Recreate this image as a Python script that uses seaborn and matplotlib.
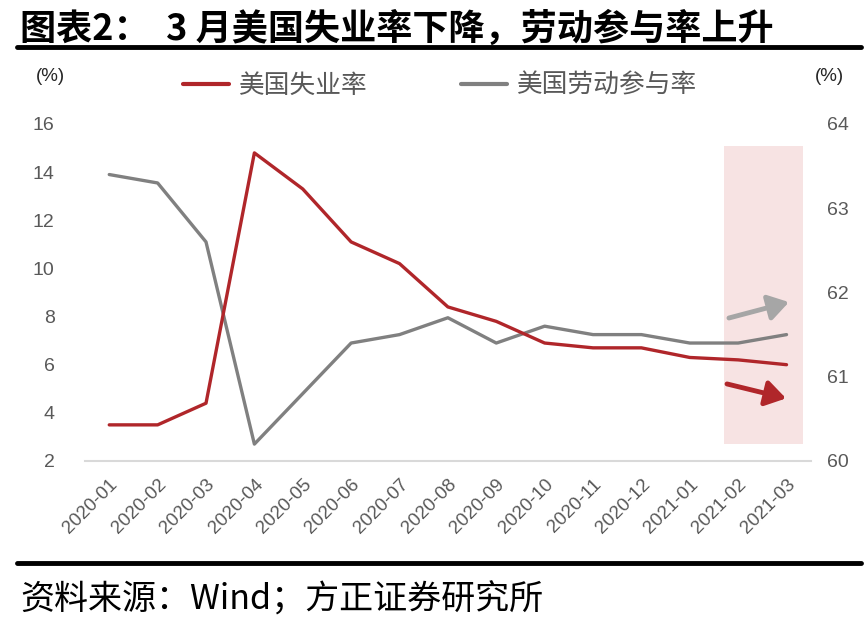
import matplotlib
matplotlib.use("Agg")
import matplotlib.pyplot as plt
import seaborn as sns
import pandas as pd
import numpy as np
from matplotlib.patches import Rectangle
from matplotlib.lines import Line2D

months = ["2020-01", "2020-02", "2020-03", "2020-04", "2020-05", "2020-06", "2020-07",
          "2020-08", "2020-09", "2020-10", "2020-11", "2020-12", "2021-01", "2021-02", "2021-03"]
unemployment = [3.5, 3.5, 4.4, 14.8, 13.3, 11.1, 10.2, 8.4, 7.8, 6.9, 6.7, 6.7, 6.3, 6.2, 6.0]
participation = [63.4, 63.3, 62.6, 60.2, 60.8, 61.4, 61.5, 61.7, 61.4, 61.6, 61.5, 61.5, 61.4, 61.4, 61.5]
left_ticks = [2, 4, 6, 8, 10, 12, 14, 16]
right_ticks = [60, 61, 62, 63, 64]

sns.set_theme(style="white")
plt.rcParams['font.family'] = ['Liberation Sans', 'Noto Sans CJK SC', 'DejaVu Sans']

RED = "#B0262A"
GRAY = "#808080"
TXT = "#595959"

df = pd.DataFrame({"idx": np.arange(len(months)), "month": months,
                   "u": unemployment, "p": participation})

fig = plt.figure(figsize=(8.68, 6.2), dpi=100)
ax = fig.add_axes([0.098, 0.2565, 0.836, 0.5435])
ax2 = ax.twinx()

# highlight region behind lines
rect = Rectangle((12.7, 2.7), 1.64, 12.4, facecolor="#F7E3E3", edgecolor="none", zorder=0)
ax2.add_patch(rect)
rect.set_transform(ax.transData)

sns.lineplot(data=df, x="idx", y="u", ax=ax, color=RED, linewidth=2.4, legend=False)
sns.lineplot(data=df, x="idx", y="p", ax=ax2, color=GRAY, linewidth=2.4, legend=False)

ax.set_xlim(-0.5, len(months) - 0.5)
ax.set_ylim(2, 16)
ax2.set_ylim(60, 64)
ax.set_yticks(left_ticks)
ax2.set_yticks(right_ticks)
ax.set_xticks(np.arange(len(months)))
ax.set_xticklabels(months, rotation=45, ha="right", rotation_mode="anchor",
                   fontsize=13.5, color=TXT)
ax.set_xticks(np.arange(len(months) + 1) - 0.5, minor=True)
ax.tick_params(axis="x", which="major", length=0, pad=11)
ax.tick_params(axis="x", which="minor", length=6, width=1.2, color="#D9D9D9", direction="out")
ax.tick_params(axis="y", length=0, labelsize=14, labelcolor=TXT, pad=22)
ax2.tick_params(axis="y", length=0, labelsize=14, labelcolor=TXT, pad=12)
ax.set_xlabel("")
ax.set_ylabel("")
ax2.set_ylabel("")
for a in (ax, ax2):
    for s in ("left", "right", "top", "bottom"):
        a.spines[s].set_visible(False)
ax.spines["bottom"].set_visible(True)
ax.spines["bottom"].set_color("#D9D9D9")
ax.spines["bottom"].set_linewidth(1.5)
ax.grid(False)
ax2.grid(False)

ax.annotate("", xy=(14.05, 8.6), xytext=(12.81, 7.94), xycoords="data",
            arrowprops=dict(arrowstyle="-|>,head_length=0.55,head_width=0.35", color="#A6A6A6",
                            lw=3.5, mutation_scale=22, shrinkA=0, shrinkB=0),
            zorder=6)
ax.annotate("", xy=(13.99, 4.6), xytext=(12.77, 5.2), xycoords="data",
            arrowprops=dict(arrowstyle="-|>,head_length=0.55,head_width=0.35", color=RED,
                            lw=3.5, mutation_scale=22, shrinkA=0, shrinkB=0),
            zorder=6)
ax.set_zorder(ax2.get_zorder() + 1)
ax.patch.set_visible(False)

# legend
handles = [Line2D([0], [0], color=RED, lw=3), Line2D([0], [0], color=GRAY, lw=3)]
leg = fig.legend(handles, ["美国失业率", "美国劳动参与率"], loc="center", bbox_to_anchor=(0.507, 0.862),
                 ncol=2, frameon=False, handlelength=1.8, columnspacing=3.6, handletextpad=0.4,
                 prop={"family": ["Noto Sans CJK SC"], "size": 18.5})
for t in leg.get_texts():
    t.set_color(TXT)

fig.text(0.058, 0.877, "(%)", fontsize=13.5, color="#262626", ha="center", va="center")
fig.text(0.955, 0.877, "(%)", fontsize=13.5, color="#262626", ha="center", va="center")

# title and footer
fig.text(0.023, 0.953, "图表2：  3 月美国失业率下降，劳动参与率上升", fontsize=26, fontweight="bold",
         family=["Noto Sans CJK SC"], color="black", ha="left", va="center")
fig.add_artist(Line2D([0.02, 0.992], [0.924, 0.924], transform=fig.transFigure, color="black", lw=3.5))
fig.add_artist(Line2D([0.02, 0.992], [0.092, 0.092], transform=fig.transFigure, color="black", lw=3.5))
fig.text(0.023, 0.032, "资料来源：Wind；方正证券研究所", fontsize=24.5, fontstyle="italic",
         family=["Noto Sans CJK SC"], color="black", ha="left", va="center")

fig.savefig("out.png", dpi=100)
